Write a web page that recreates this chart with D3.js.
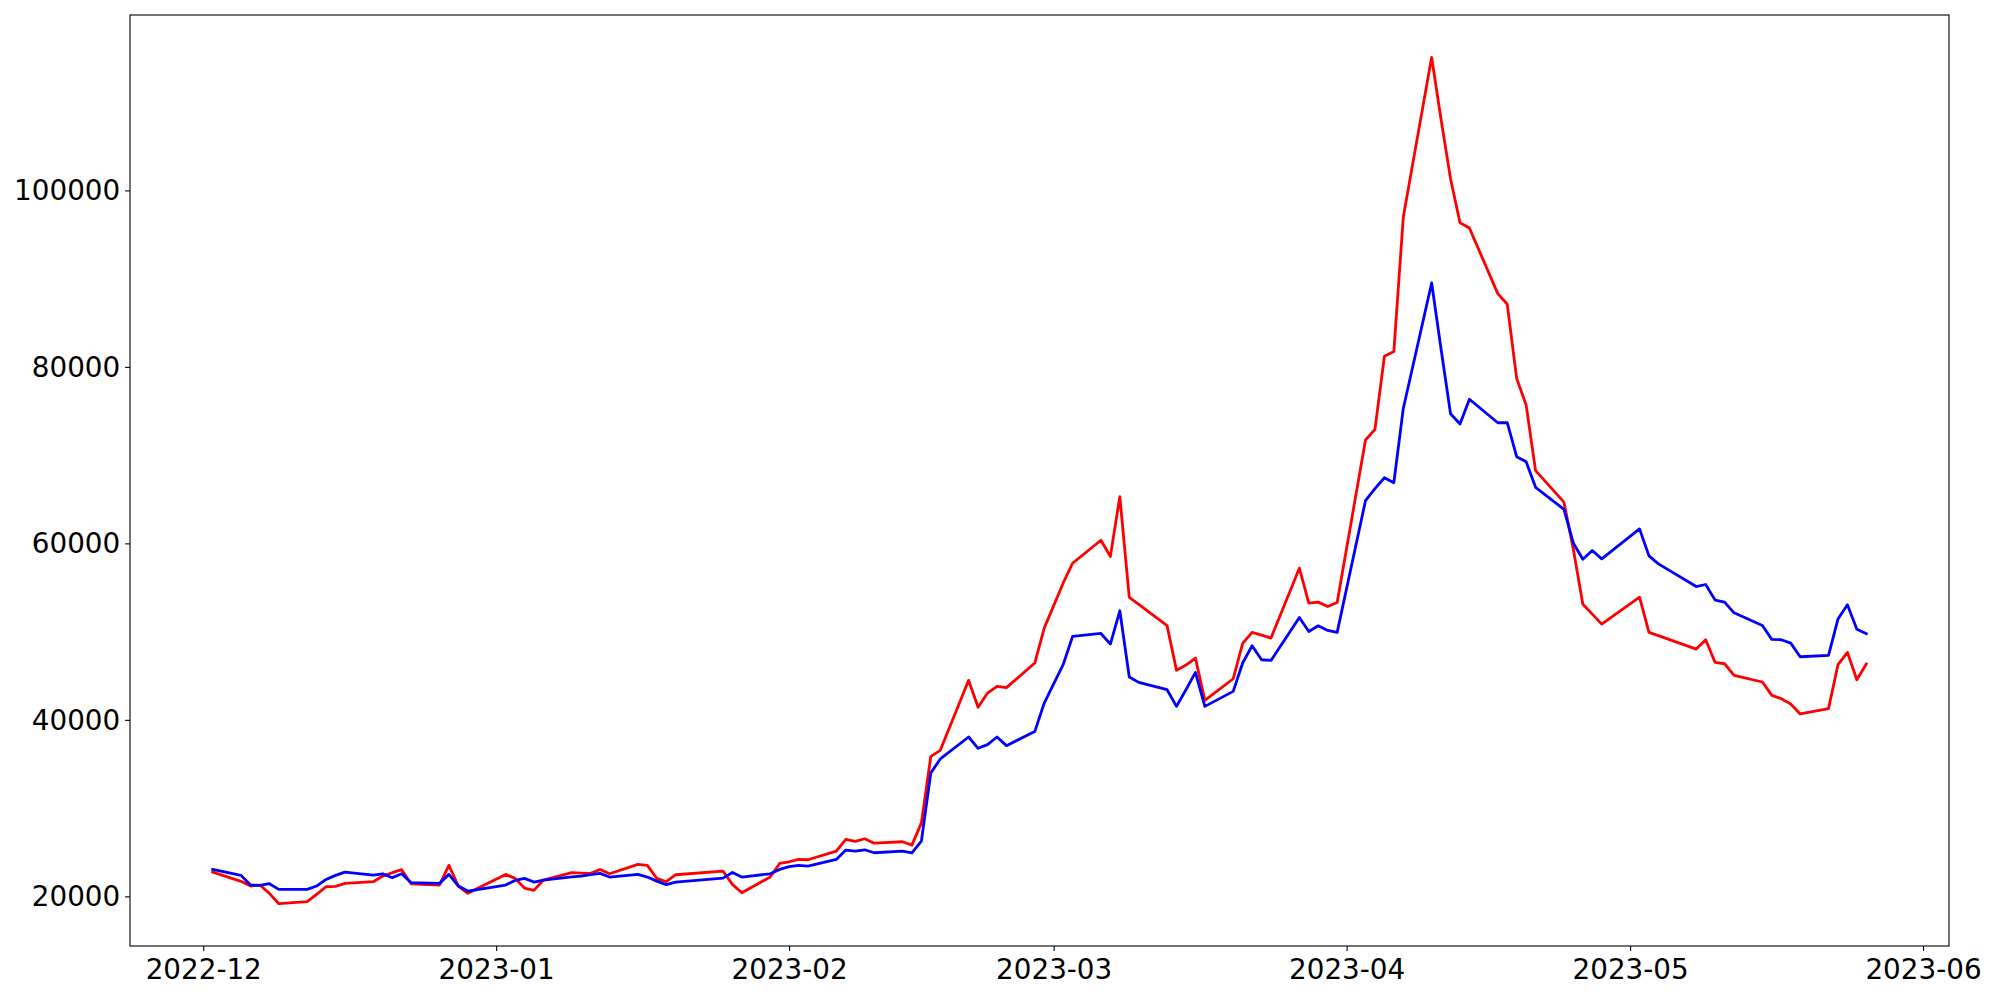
<!DOCTYPE html>
<html>
<head>
<meta charset="utf-8">
<script src="https://cdn.jsdelivr.net/npm/d3@7"></script>
<style>
  html, body { margin: 0; padding: 0; background: #ffffff; }
  svg { display: block; }
  text { font-family: "DejaVu Sans", sans-serif; }
</style>
</head>
<body>
<svg id="chart" width="2000" height="1000"></svg>
<script>
// ---- data ----
const dates = [
  "2022-12-02","2022-12-05","2022-12-06","2022-12-07","2022-12-08","2022-12-09",
  "2022-12-12","2022-12-13","2022-12-14","2022-12-15","2022-12-16",
  "2022-12-19","2022-12-20","2022-12-21","2022-12-22","2022-12-23",
  "2022-12-26","2022-12-27","2022-12-28","2022-12-29",
  "2023-01-02","2023-01-03","2023-01-04","2023-01-05","2023-01-06",
  "2023-01-09","2023-01-10","2023-01-11","2023-01-12","2023-01-13",
  "2023-01-16","2023-01-17","2023-01-18","2023-01-19","2023-01-20",
  "2023-01-25","2023-01-26","2023-01-27","2023-01-30","2023-01-31",
  "2023-02-01","2023-02-02","2023-02-03",
  "2023-02-06","2023-02-07","2023-02-08","2023-02-09","2023-02-10",
  "2023-02-13","2023-02-14","2023-02-15","2023-02-16","2023-02-17",
  "2023-02-20","2023-02-21","2023-02-22","2023-02-23","2023-02-24",
  "2023-02-27","2023-02-28","2023-03-02","2023-03-03",
  "2023-03-06","2023-03-07","2023-03-08","2023-03-09","2023-03-10",
  "2023-03-13","2023-03-14","2023-03-15","2023-03-16","2023-03-17",
  "2023-03-20","2023-03-21","2023-03-22","2023-03-23","2023-03-24",
  "2023-03-27","2023-03-28","2023-03-29","2023-03-30","2023-03-31",
  "2023-04-03","2023-04-04","2023-04-05","2023-04-06","2023-04-07",
  "2023-04-10","2023-04-11","2023-04-12","2023-04-13","2023-04-14",
  "2023-04-17","2023-04-18","2023-04-19","2023-04-20","2023-04-21",
  "2023-04-24","2023-04-25","2023-04-26","2023-04-27","2023-04-28",
  "2023-05-02","2023-05-03","2023-05-04",
  "2023-05-08","2023-05-09","2023-05-10","2023-05-11","2023-05-12",
  "2023-05-15","2023-05-16","2023-05-17","2023-05-18","2023-05-19",
  "2023-05-22","2023-05-23","2023-05-24","2023-05-25","2023-05-26"
];

const redValues = [
  22750,21700,21170,21280,20340,19170,
  19400,20230,21090,21130,21470,
  21660,22300,22680,23020,21430,
  21280,23510,21170,20340,
  22490,22040,20940,20680,21850,
  22680,22640,22600,23050,22560,
  23620,23510,22040,21660,22450,
  22870,21360,20410,22190,23730,
  23920,24190,24150,
  25130,26450,26220,26530,26030,
  26190,25810,28330,35870,36550,
  44480,41420,43040,43800,43650,
  46440,50400,55490,57750,
  60350,58510,65300,53870,53090,
  50680,45610,46210,47000,42210,
  44660,48660,49910,49610,49270,
  57190,53230,53340,52850,53300,
  71710,72920,81210,81740,96980,
  115080,108000,101320,96340,95730,
  88300,87100,78680,75670,68240,
  64670,59300,53110,51980,50850,
  53910,49910,49550,
  48020,49080,46510,46360,45040,
  44290,42780,42400,41800,40670,
  41270,46250,47650,44550,46330
];

const blueValues = [
  23050,22380,21280,21240,21430,20790,
  20790,21170,21920,22380,22750,
  22410,22560,22110,22560,21550,
  21470,22490,21170,20600,
  21280,21810,22040,21620,21850,
  22200,22300,22450,22600,22190,
  22490,22190,21730,21320,21620,
  22070,22710,22190,22560,23050,
  23360,23510,23430,
  24180,25240,25130,25280,24940,
  25130,24940,26260,33990,35570,
  38060,36780,37200,38060,37080,
  38670,41910,46250,49450,
  49790,48590,52360,44850,44250,
  43420,41530,43420,45380,41530,
  43230,46440,48400,46810,46740,
  51600,50020,50660,50130,49910,
  64840,66200,67440,66880,75290,
  89510,82000,74690,73520,76330,
  73670,73670,69820,69260,66350,
  63860,60020,58210,59190,58240,
  61640,58580,57680,
  55110,55340,53570,53340,52130,
  50700,49120,49080,48700,47150,
  47300,51420,53040,50280,49760
];

const yTickValues = [20000, 40000, 60000, 80000, 100000];
const xTickLabels = ["2022-12","2023-01","2023-02","2023-03","2023-04","2023-05","2023-06"];

// ---- layout ----
const W = 2000, H = 1000;
const plot = { left: 130, right: 1949, top: 15, bottom: 946 };
const fontPx = 27.8;

const parse = d3.utcParse("%Y-%m-%d");
const parseMonth = d3.utcParse("%Y-%m");
const xs = dates.map(parse);
const redData = xs.map((d, i) => ({ d, v: redValues[i] }));
const blueData = xs.map((d, i) => ({ d, v: blueValues[i] }));

// matplotlib-like 5% margins
const xExt = d3.extent(xs);
const xPad = (xExt[1] - xExt[0]) * 0.05;
const allV = redValues.concat(blueValues);
const yExt = d3.extent(allV);
const yPad = (yExt[1] - yExt[0]) * 0.05;

const x = d3.scaleUtc()
  .domain([new Date(+xExt[0] - xPad), new Date(+xExt[1] + xPad)])
  .range([plot.left, plot.right]);
const y = d3.scaleLinear()
  .domain([yExt[0] - yPad, yExt[1] + yPad])
  .range([plot.bottom, plot.top]);

const svg = d3.select("#chart");
svg.append("rect").attr("width", W).attr("height", H).attr("fill", "#ffffff");

const line = d3.line().x(p => x(p.d)).y(p => y(p.v));

svg.append("path").datum(redData)
  .attr("d", line).attr("fill", "none")
  .attr("stroke", "#ff0000").attr("stroke-width", 2.8)
  .attr("stroke-linejoin", "round").attr("stroke-linecap", "square");
svg.append("path").datum(blueData)
  .attr("d", line).attr("fill", "none")
  .attr("stroke", "#0000ff").attr("stroke-width", 2.8)
  .attr("stroke-linejoin", "round").attr("stroke-linecap", "square");

// axes
const xTicks = xTickLabels.map(parseMonth);
const xAxis = d3.axisBottom(x)
  .tickValues(xTicks)
  .tickFormat(d3.utcFormat("%Y-%m"))
  .tickSize(4.9).tickPadding(4.9);
const yAxis = d3.axisLeft(y)
  .tickValues(yTickValues)
  .tickFormat(d3.format("d"))
  .tickSize(4.9).tickPadding(4.9);

const gx = svg.append("g").attr("transform", `translate(0,${plot.bottom})`).call(xAxis);
const gy = svg.append("g").attr("transform", `translate(${plot.left},0)`).call(yAxis);

[gx, gy].forEach(g => {
  g.select(".domain").remove();
  g.selectAll(".tick line").attr("stroke", "#000").attr("stroke-width", 1.1);
  g.selectAll(".tick text")
    .attr("fill", "#000")
    .style("font-family", "'DejaVu Sans', sans-serif")
    .style("font-size", fontPx + "px");
});
gx.selectAll(".tick text").attr("dy", null).attr("y", 33);
gy.selectAll(".tick text").attr("dy", "0.34em");

// frame (spines)
svg.append("rect")
  .attr("x", plot.left).attr("y", plot.top)
  .attr("width", plot.right - plot.left).attr("height", plot.bottom - plot.top)
  .attr("fill", "none").attr("stroke", "#000").attr("stroke-width", 1.1);
</script>
</body>
</html>
